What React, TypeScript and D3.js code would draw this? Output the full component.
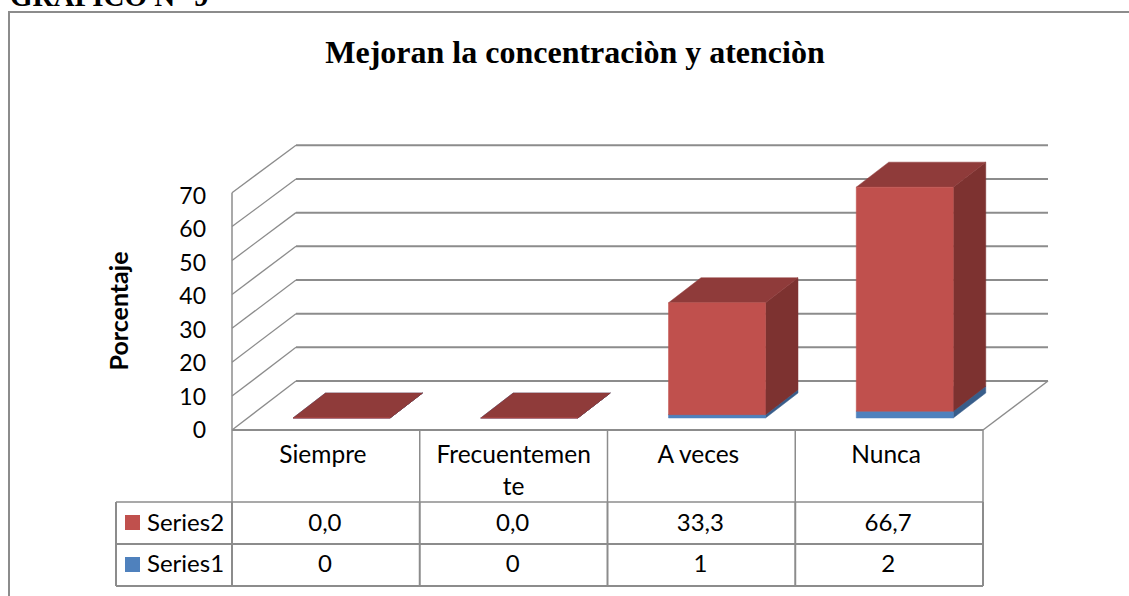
import React, { useEffect, useRef } from "react";
import * as d3 from "d3";

const categories = ["Siempre", "Frecuentemente", "A veces", "Nunca"];
const categoryLines = [["Siempre"], ["Frecuentemen", "te"], ["A veces"], ["Nunca"]];
const series1 = [0, 0, 1, 2];
const series2 = [0, 0, 33.3, 66.7];
const series1Labels = ["0", "0", "1", "2"];
const series2Labels = ["0,0", "0,0", "33,3", "66,7"];
const yTicks = [0, 10, 20, 30, 40, 50, 60, 70];

const GRID = "#8c8c8c";
const BLUE = { front: "#4f81bd", side: "#385d8a", top: "#3f6797" };
const RED = { front: "#c0504d", side: "#7d3230", top: "#8f3b3a" };

const App = () => {
  const ref = useRef<SVGSVGElement>(null);

  useEffect(() => {
    const svg = d3.select(ref.current);
    svg.selectAll("*").remove();

    // chart frame, runs off the page on the right and bottom
    svg.append("rect")
      .attr("x", 9).attr("y", 12)
      .attr("width", 1140).attr("height", 620)
      .attr("fill", "#fff").attr("stroke", GRID).attr("stroke-width", 2);

    svg.append("text")
      .attr("x", 10).attr("y", 6)
      .attr("font-family", "Liberation Serif").attr("font-weight", "bold").attr("font-size", 29)
      .text("GRÁFICO N° 9");

    svg.append("text")
      .attr("x", 575).attr("y", 63)
      .attr("text-anchor", "middle")
      .attr("font-family", "Liberation Serif").attr("font-weight", "bold").attr("font-size", 32)
      .text("Mejoran la concentraciòn y atenciòn");

    const sans = "Lato";
    const dx = 64; // depth offset of the floor
    const x = d3.scaleBand().domain(categories).range([232, 983]);
    const bandW = x.bandwidth();
    const y = d3.scaleLinear().domain([0, 70]).range([430, 192.7]);
    const yBack = d3.scaleLinear().domain([0, 70]).range([381, 145.3]);
    const yLabel = d3.scaleLinear().domain([0, 70]).range([438, 204]);

    // walls + gridlines
    yTicks.forEach((t) => {
      svg.append("line")
        .attr("x1", 232).attr("y1", y(t)).attr("x2", 232 + dx).attr("y2", yBack(t))
        .attr("stroke", GRID).attr("stroke-width", 1.3);
      svg.append("line")
        .attr("x1", 232 + dx).attr("y1", yBack(t)).attr("x2", 983 + dx + 1).attr("y2", yBack(t))
        .attr("stroke", GRID).attr("stroke-width", 2);
    });
    svg.append("line")
      .attr("x1", 232).attr("x2", 232).attr("y1", y(70)).attr("y2", y(0))
      .attr("stroke", GRID).attr("stroke-width", 1.5);
    svg.append("line")
      .attr("x1", 983).attr("x2", 983 + dx + 1).attr("y1", y(0)).attr("y2", yBack(0))
      .attr("stroke", GRID).attr("stroke-width", 1.5);

    yTicks.forEach((t) => {
      svg.append("text")
        .attr("x", 206).attr("y", yLabel(t))
        .attr("text-anchor", "end")
        .attr("font-family", sans).attr("font-size", 23)
        .text(t);
    });

    svg.append("text")
      .attr("transform", "translate(128,311) rotate(-90)")
      .attr("text-anchor", "middle")
      .attr("font-family", sans).attr("font-weight", "bold").attr("font-size", 25)
      .text("Porcentaje");

    // bars sit a little behind the front edge of the floor
    const barW = 97;
    const barOffset = 61;
    const depthX = 32.5;
    const depthY = -25;
    const yBar = d3.scaleLinear().domain([0, 70]).range([418, 182.8]);

    const box = (x0: number, yBottom: number, yTop: number, c: typeof BLUE) => {
      const x1 = x0 + barW;
      const poly = (pts: [number, number][], fill: string) =>
        svg.append("path")
          .attr("d", (d3.line()(pts) as string) + "Z")
          .attr("fill", fill).attr("stroke", fill).attr("stroke-width", 0.5);
      poly([[x1, yBottom], [x1 + depthX, yBottom + depthY], [x1 + depthX, yTop + depthY], [x1, yTop]], c.side);
      poly([[x0, yTop], [x0 + depthX, yTop + depthY], [x1 + depthX, yTop + depthY], [x1, yTop]], c.top);
      poly([[x0, yBottom], [x1, yBottom], [x1, yTop], [x0, yTop]], c.front);
    };

    categories.forEach((cat, i) => {
      const x0 = (x(cat) as number) + barOffset;
      const top1 = yBar(series1[i]);
      const top2 = yBar(series1[i] + series2[i]);
      box(x0, yBar(0), top1, BLUE);
      box(x0, top1, top2, RED);
    });

    // data table
    const rowY = [430, 502, 544, 586];
    const legendX = 116;
    const tableLine = (x1: number, y1: number, x2: number, y2: number, w = 1.5) =>
      svg.append("line")
        .attr("x1", x1).attr("y1", y1).attr("x2", x2).attr("y2", y2)
        .attr("stroke", GRID).attr("stroke-width", w);

    tableLine(232, rowY[0], 983, rowY[0], 2);
    tableLine(legendX, rowY[1], 983, rowY[1]);
    tableLine(legendX, rowY[2], 983, rowY[2], 2);
    tableLine(legendX, rowY[3], 983, rowY[3], 2);
    tableLine(legendX, rowY[1], legendX, rowY[3], 2);
    [0, 1, 2, 3].forEach((i) => {
      const cx = x(categories[i]) as number;
      tableLine(cx, rowY[0], cx, rowY[1]);
      tableLine(cx, rowY[1], cx, rowY[3], 2);
    });
    tableLine(983, rowY[0], 983, rowY[1]);
    tableLine(983, rowY[1], 983, rowY[3], 2);

    const cell = (tx: number, ty: number, s: string, size: number, anchor = "middle") =>
      svg.append("text")
        .attr("x", tx).attr("y", ty)
        .attr("text-anchor", anchor)
        .attr("font-family", sans).attr("font-size", size)
        .text(s);

    categories.forEach((cat, i) => {
      const cx = (x(cat) as number) + bandW / 2;
      categoryLines[i].forEach((l, j) => cell(i === 1 ? cx : cx - 3, 463 + j * 32, l, 24.5));
      cell(cx - 1, rowY[1] + 29, series2Labels[i], 24);
      cell(cx - 1, rowY[2] + 28, series1Labels[i], 24);
    });

    [["Series2", RED.front, rowY[1], 29], ["Series1", BLUE.front, rowY[2], 28]].forEach(([name, col, ry, off]) => {
      svg.append("rect")
        .attr("x", 125).attr("y", (ry as number) + 13)
        .attr("width", 15).attr("height", 15)
        .attr("fill", col as string);
      cell(147, (ry as number) + (off as number), name as string, 24, "start");
    });
  }, []);

  return (
    <svg
      ref={ref}
      width={1129}
      height={596}
      style={{ position: "fixed", left: 0, top: 0, background: "#fff" }}
    />
  );
};

export default App;
